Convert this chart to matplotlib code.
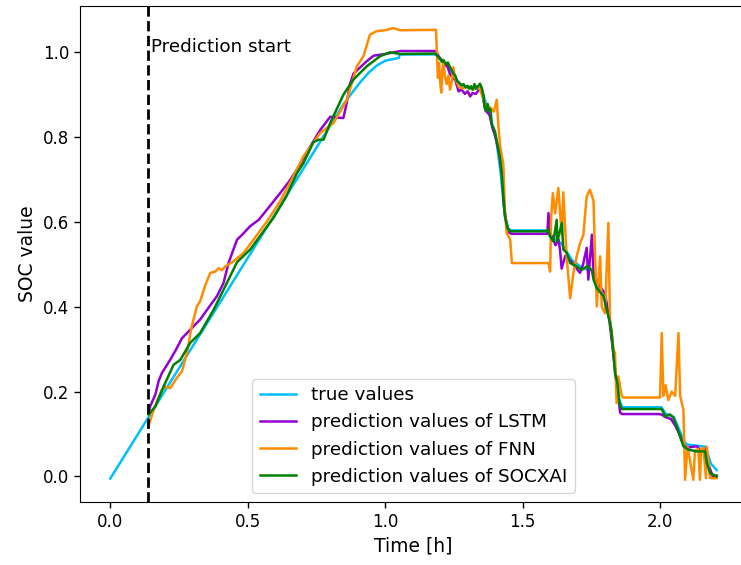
import numpy as np
import matplotlib
matplotlib.use("Agg")
import matplotlib.pyplot as plt

# true SOC values
t_true = [0.000, 0.850, 0.880, 0.910, 0.940, 0.970, 1.000, 1.050, 1.052, 1.185, 1.200, 1.220, 1.248, 1.270,
          1.300, 1.330, 1.350, 1.360, 1.375, 1.390, 1.405, 1.420, 1.435, 1.448, 1.458, 1.590, 1.600, 1.640,
          1.680, 1.720, 1.755, 1.770, 1.800, 1.820, 1.835, 1.850, 1.862, 2.005, 2.020, 2.050, 2.070, 2.090,
          2.100, 2.165, 2.185, 2.206]
soc_true = [-0.005, 0.879, 0.905, 0.930, 0.952, 0.969, 0.980, 0.987, 0.995, 0.995, 0.983, 0.972, 0.948, 0.925,
            0.916, 0.914, 0.915, 0.893, 0.864, 0.828, 0.790, 0.716, 0.615, 0.584, 0.580, 0.580, 0.565, 0.550,
            0.510, 0.490, 0.485, 0.450, 0.420, 0.360, 0.260, 0.185, 0.163, 0.163, 0.148, 0.140, 0.110, 0.080,
            0.075, 0.070, 0.030, 0.015]

# LSTM predictions
t_lstm = [0.140, 0.145, 0.164, 0.176, 0.188, 0.218, 0.240, 0.261, 0.291, 0.327, 0.360, 0.388, 0.412, 0.430,
          0.448, 0.461, 0.480, 0.509, 0.540, 0.570, 0.618, 0.650, 0.679, 0.720, 0.764, 0.800, 0.825, 0.848,
          0.860, 0.872, 0.885, 0.910, 0.933, 0.958, 1.000, 1.055, 1.185, 1.195, 1.205, 1.215, 1.225, 1.235,
          1.245, 1.255, 1.267, 1.278, 1.290, 1.300, 1.309, 1.318, 1.330, 1.345, 1.352, 1.358, 1.365, 1.372,
          1.380, 1.390, 1.398, 1.405, 1.415, 1.425, 1.432, 1.440, 1.450, 1.460, 1.590, 1.594, 1.600, 1.610,
          1.620, 1.630, 1.636, 1.642, 1.655, 1.673, 1.690, 1.709, 1.720, 1.733, 1.739, 1.752, 1.758, 1.775,
          1.790, 1.800, 1.815, 1.830, 1.845, 1.855, 1.862, 1.995, 2.005, 2.020, 2.040, 2.055, 2.070, 2.085,
          2.100, 2.133, 2.150, 2.165, 2.175, 2.194, 2.206]
soc_lstm = [0.150, 0.165, 0.193, 0.225, 0.244, 0.275, 0.300, 0.326, 0.346, 0.370, 0.400, 0.425, 0.456, 0.503,
            0.535, 0.558, 0.570, 0.590, 0.605, 0.629, 0.668, 0.695, 0.723, 0.770, 0.817, 0.848, 0.846, 0.845,
            0.880, 0.925, 0.950, 0.965, 0.979, 0.992, 0.996, 1.003, 1.003, 0.990, 0.982, 0.968, 0.970, 0.950,
            0.940, 0.935, 0.908, 0.912, 0.902, 0.908, 0.896, 0.904, 0.902, 0.915, 0.908, 0.885, 0.862, 0.858,
            0.852, 0.822, 0.808, 0.790, 0.760, 0.710, 0.640, 0.600, 0.575, 0.572, 0.572, 0.621, 0.575, 0.560,
            0.545, 0.560, 0.535, 0.490, 0.520, 0.510, 0.495, 0.480, 0.500, 0.539, 0.464, 0.570, 0.480, 0.455,
            0.440, 0.432, 0.370, 0.290, 0.200, 0.150, 0.147, 0.147, 0.146, 0.140, 0.135, 0.120, 0.100, 0.075,
            0.068, 0.071, 0.060, 0.065, 0.030, -0.004, 0.002]

# FNN predictions
t_fnn = [0.139, 0.145, 0.158, 0.175, 0.188, 0.200, 0.218, 0.230, 0.242, 0.261, 0.279, 0.295, 0.315, 0.327,
         0.345, 0.364, 0.382, 0.394, 0.406, 0.418, 0.448, 0.485, 0.521, 0.570, 0.618, 0.660, 0.703, 0.764,
         0.812, 0.861, 0.897, 0.921, 0.945, 0.970, 1.000, 1.030, 1.055, 1.185, 1.188, 1.192, 1.196, 1.200,
         1.204, 1.208, 1.212, 1.218, 1.224, 1.230, 1.236, 1.242, 1.248, 1.254, 1.261, 1.268, 1.280, 1.300,
         1.320, 1.335, 1.345, 1.358, 1.370, 1.382, 1.395, 1.406, 1.412, 1.418, 1.430, 1.436, 1.442, 1.455,
         1.461, 1.594, 1.600, 1.604, 1.610, 1.618, 1.630, 1.642, 1.648, 1.661, 1.673, 1.685, 1.697, 1.709,
         1.721, 1.733, 1.745, 1.758, 1.764, 1.770, 1.782, 1.788, 1.800, 1.812, 1.818, 1.824, 1.830, 1.836,
         1.842, 1.848, 1.861, 1.866, 2.000, 2.006, 2.012, 2.020, 2.030, 2.042, 2.055, 2.067, 2.073, 2.085,
         2.091, 2.100, 2.121, 2.127, 2.139, 2.145, 2.150, 2.158, 2.167, 2.170, 2.182, 2.206]
soc_fnn = [0.120, 0.130, 0.157, 0.185, 0.205, 0.212, 0.208, 0.220, 0.232, 0.248, 0.291, 0.350, 0.401, 0.413,
           0.450, 0.480, 0.483, 0.491, 0.486, 0.495, 0.507, 0.527, 0.558, 0.601, 0.649, 0.700, 0.755, 0.810,
           0.833, 0.888, 0.967, 0.991, 1.042, 1.050, 1.052, 1.057, 1.052, 1.053, 1.000, 0.940, 0.975, 0.930,
           0.905, 0.960, 0.975, 0.940, 0.925, 0.945, 0.912, 0.930, 0.965, 0.940, 0.930, 0.918, 0.915, 0.918,
           0.912, 0.920, 0.912, 0.888, 0.865, 0.870, 0.860, 0.888, 0.825, 0.780, 0.735, 0.621, 0.574, 0.558,
           0.503, 0.503, 0.483, 0.613, 0.668, 0.620, 0.680, 0.570, 0.670, 0.511, 0.420, 0.480, 0.520, 0.550,
           0.570, 0.660, 0.676, 0.650, 0.511, 0.401, 0.519, 0.400, 0.385, 0.598, 0.362, 0.340, 0.300, 0.291,
           0.173, 0.236, 0.189, 0.186, 0.186, 0.338, 0.190, 0.215, 0.180, 0.200, 0.190, 0.338, 0.190, 0.157,
           -0.008, 0.070, -0.008, 0.060, 0.065, -0.008, 0.065, 0.067, -0.004, 0.070, -0.004, -0.004]

# SOCXAI predictions
t_xai = [0.139, 0.164, 0.194, 0.230, 0.255, 0.291, 0.327, 0.376, 0.424, 0.461, 0.509, 0.594, 0.640, 0.679,
         0.703, 0.739, 0.758, 0.776, 0.800, 0.848, 0.885, 0.933, 0.982, 1.018, 1.055, 1.182, 1.192, 1.200,
         1.206, 1.212, 1.220, 1.228, 1.236, 1.242, 1.248, 1.255, 1.262, 1.270, 1.278, 1.285, 1.292, 1.300,
         1.306, 1.312, 1.318, 1.325, 1.330, 1.338, 1.345, 1.352, 1.358, 1.362, 1.368, 1.373, 1.378, 1.383,
         1.388, 1.394, 1.400, 1.406, 1.412, 1.418, 1.424, 1.430, 1.436, 1.445, 1.455, 1.588, 1.594, 1.600,
         1.612, 1.624, 1.626, 1.643, 1.648, 1.661, 1.673, 1.697, 1.715, 1.733, 1.752, 1.758, 1.770, 1.794,
         1.806, 1.818, 1.824, 1.830, 1.836, 1.845, 1.852, 1.861, 2.006, 2.018, 2.036, 2.048, 2.061, 2.073,
         2.085, 2.103, 2.133, 2.164, 2.170, 2.182, 2.206]
soc_xai = [0.146, 0.165, 0.212, 0.263, 0.275, 0.315, 0.338, 0.393, 0.456, 0.505, 0.535, 0.610, 0.660, 0.715,
           0.739, 0.788, 0.794, 0.794, 0.833, 0.900, 0.936, 0.967, 0.991, 1.000, 0.996, 0.997, 0.990, 0.985,
           0.978, 0.982, 0.972, 0.976, 0.965, 0.958, 0.950, 0.945, 0.932, 0.928, 0.922, 0.925, 0.918, 0.921,
           0.914, 0.920, 0.912, 0.925, 0.915, 0.920, 0.926, 0.915, 0.896, 0.870, 0.862, 0.878, 0.862, 0.866,
           0.830, 0.822, 0.812, 0.790, 0.772, 0.750, 0.716, 0.660, 0.613, 0.586, 0.578, 0.578, 0.582, 0.566,
           0.554, 0.605, 0.554, 0.598, 0.535, 0.527, 0.503, 0.495, 0.487, 0.495, 0.487, 0.464, 0.444, 0.425,
           0.393, 0.362, 0.338, 0.291, 0.244, 0.220, 0.173, 0.159, 0.159, 0.142, 0.146, 0.139, 0.118, 0.094,
           0.071, 0.063, 0.059, 0.059, 0.032, 0.008, 0.000]

pred_start = 0.137

fig = plt.figure(figsize=(7.41, 5.65), dpi=100)
ax = fig.add_axes([0.108, 0.111, 0.900, 0.879])

lw = 1.8
ax.plot(t_true, soc_true, color='deepskyblue', lw=lw, label='true values')
ax.plot(t_lstm, soc_lstm, color='darkviolet', lw=lw, label='prediction values of LSTM')
ax.plot(t_fnn, soc_fnn, color='darkorange', lw=lw, label='prediction values of FNN')
ax.plot(t_xai, soc_xai, color='green', lw=lw, label='prediction values of SOCXAI')

ax.axvline(pred_start, color='black', linestyle='--', lw=2)
ax.text(pred_start + 0.012, 1.0, 'Prediction start', fontsize=13.2)

ax.set_xlim(-0.11, 2.316)
ax.set_ylim(-0.061, 1.110)
ax.set_xticks([0.0, 0.5, 1.0, 1.5, 2.0])
ax.set_yticks([0.0, 0.2, 0.4, 0.6, 0.8, 1.0])
ax.tick_params(labelsize=12, length=4.2, width=1)
ax.set_xlabel('Time [h]', fontsize=13.5)
ax.set_ylabel('SOC value', fontsize=13.5)
ax.legend(loc='lower center', fontsize=13.2)

fig.savefig('out.png', dpi=100)
